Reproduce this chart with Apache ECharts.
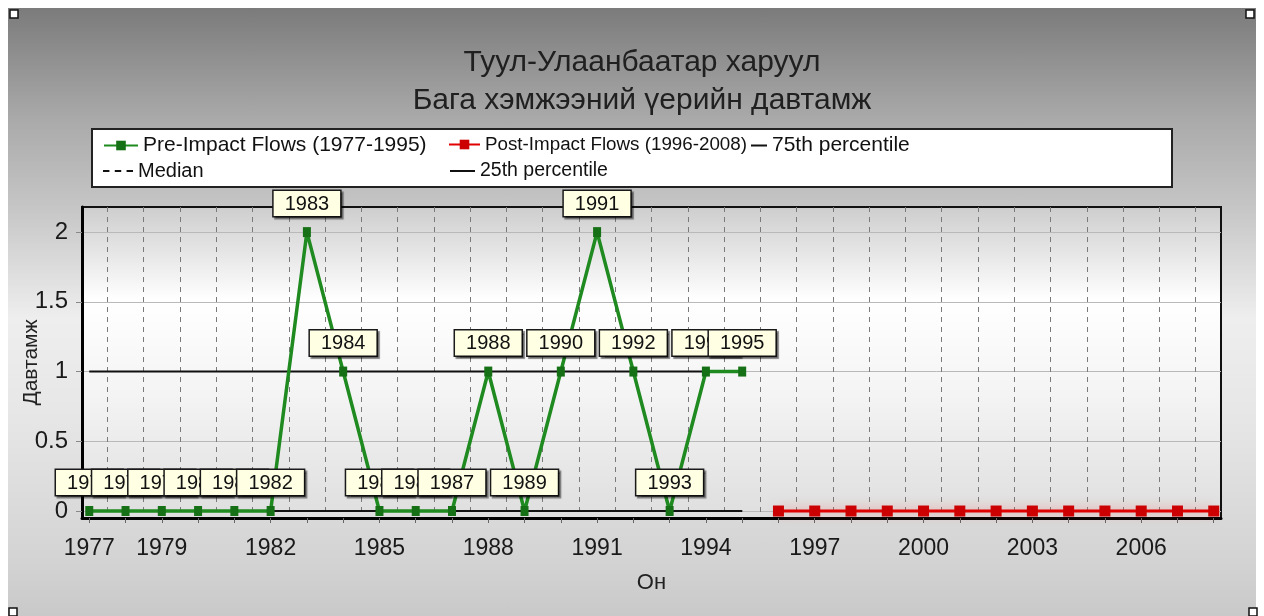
<!DOCTYPE html>
<html>
<head>
<meta charset="utf-8">
<title>Туул-Улаанбаатар харуул</title>
<script src="https://cdn.jsdelivr.net/npm/echarts@6/dist/echarts.min.js"></script>
<style>
  html, body { margin: 0; padding: 0; background: #ffffff; }
  #wrap { position: relative; width: 1264px; height: 616px; overflow: hidden; }
  #bg {
    position: absolute; left: 8px; top: 8px; width: 1248px; height: 608px;
    background: linear-gradient(to bottom, #7b7b7b 0%, #a9a9a9 18%, #c4c4c4 32%, #eeeeee 51%, #e6e6e6 68%, #d3d3d3 91%, #c9c9c9 100%);
  }
  #chart { position: absolute; left: 0; top: 0; width: 1264px; height: 616px; }
</style>
</head>
<body>
<div id="wrap">
  <div id="bg"></div>
  <div id="chart"></div>
</div>
<script>
// Low-flow event counts per year, Tuul river at Ulaanbaatar station
const preImpactName = 'Pre-Impact Flows (1977-1995)';
const preImpactYears = [1977, 1978, 1979, 1980, 1981, 1982, 1983, 1984, 1985, 1986,
                        1987, 1988, 1989, 1990, 1991, 1992, 1993, 1994, 1995];
const preImpactValues = [0, 0, 0, 0, 0, 0, 2, 1, 0, 0,
                         0, 1, 0, 1, 2, 1, 0, 1, 1];

const postImpactName = 'Post-Impact Flows (1996-2008)';
const postImpactYears = [1996, 1997, 1998, 1999, 2000, 2001, 2002, 2003, 2004, 2005,
                         2006, 2007, 2008];
const postImpactValues = [0, 0, 0, 0, 0, 0, 0, 0, 0, 0,
                          0, 0, 0];

// Reference levels of the pre-impact period
const percentileNames = ['75th percentile', 'Median', '25th percentile'];
const percentileValues = [1, 0, 0];

// Axis ticks and labels
const xTickYears = [1977, 1978, 1979, 1980, 1981, 1982, 1983, 1984, 1985, 1986, 1987,
                    1988, 1989, 1990, 1991, 1992, 1993, 1994, 1995, 1996, 1997, 1998,
                    1999, 2000, 2001, 2002, 2003, 2004, 2005, 2006, 2007, 2008];
const xLabelYears = [1977, 1979, 1982, 1985, 1988, 1991, 1994, 1997, 2000, 2003, 2006];
const yTickValues = [0, 0.5, 1, 1.5, 2];

const titleLines = ['Туул-Улаанбаатар харуул', 'Бага хэмжээний үерийн давтамж'];
const xAxisName = 'Он';
const yAxisName = 'Давтамж';

const FONT = '"Liberation Sans", Arial, sans-serif';

const pairs = (xs, ys) => xs.map((x, i) => [x, ys[i]]);
// vertical grid lines sit midway between the yearly ticks
const xGridPositions = xTickYears.slice(0, -1).map(y => y + 0.5);
const spanStart = preImpactYears[0];
const spanEnd = preImpactYears[preImpactYears.length - 1];

const chart = echarts.init(document.getElementById('chart'), null, { renderer: 'canvas' });

// one legend block per entry so each sits in its own column
const legendItem = (name, left, top, fontSize, extra) => Object.assign({
  data: [name],
  left: left,
  top: top,
  orient: 'horizontal',
  padding: 0,
  itemGap: 0,
  itemHeight: 12,
  selectedMode: false,
  textStyle: { color: '#111', fontSize: fontSize, fontFamily: FONT }
}, extra);

const handle = (x, y) => ({
  type: 'rect', z: 100,
  shape: { x: x, y: y, width: 8, height: 8 },
  style: { fill: '#ffffff', stroke: '#111', lineWidth: 1.5 }
});

const dashIcon = 'path://M0,0h6v2h-6z M11,0h6v2h-6z M22,0h6v2h-6z';

const option = {
  backgroundColor: 'transparent',
  animation: false,
  title: {
    text: titleLines.join('\n'),
    left: 637,
    textAlign: 'center',
    top: 39,
    textStyle: {
      color: '#202020', fontSize: 30, fontWeight: 'normal',
      fontFamily: FONT, lineHeight: 38
    }
  },
  graphic: [
    {
      type: 'rect', z: 1,
      shape: { x: 92, y: 129, width: 1080, height: 58 },
      style: { fill: '#ffffff', stroke: '#222', lineWidth: 2 }
    },
    handle(10, 10), handle(1246, 10), handle(9, 608), handle(1249, 608)
  ],
  legend: [
    legendItem(preImpactName, 103, 135, 21, { itemWidth: 34 }),
    legendItem(postImpactName, 448, 135, 18.8, { itemWidth: 31 }),
    legendItem(percentileNames[0], 751, 135, 21,
      { itemWidth: 16, itemHeight: 2, icon: 'rect', symbolKeepAspect: false }),
    legendItem(percentileNames[1], 103, 161, 20,
      { itemWidth: 30, itemHeight: 2, icon: dashIcon, symbolKeepAspect: false }),
    legendItem(percentileNames[2], 450, 161, 19.5,
      { itemWidth: 25, itemHeight: 2, icon: 'rect', symbolKeepAspect: false })
  ],
  grid: {
    left: 82, top: 207, right: 43, bottom: 98,
    outerBoundsMode: 'none',
    containLabel: false,
    show: true,
    borderColor: '#111',
    borderWidth: 2,
    backgroundColor: {
      type: 'linear', x: 0, y: 0, x2: 0, y2: 1,
      colorStops: [
        { offset: 0, color: '#cdcdcd' },
        { offset: 0.3, color: '#ffffff' },
        { offset: 0.6, color: '#f4f4f4' },
        { offset: 1, color: '#dedede' }
      ]
    }
  },
  xAxis: [
    {
      type: 'value',
      min: 1976.8, max: 2008.2,
      name: xAxisName,
      nameLocation: 'middle',
      nameGap: 54,
      nameMoveOverlap: false,
      nameTextStyle: { color: '#222', fontSize: 22, fontFamily: FONT },
      axisLine: { show: true, onZero: false, lineStyle: { color: '#000', width: 3 } },
      axisTick: { show: true, length: 5, customValues: xTickYears, lineStyle: { color: '#666', width: 1 } },
      axisLabel: {
        customValues: xLabelYears,
        margin: 19,
        color: '#1a1a1a', fontSize: 23, fontFamily: FONT,
        formatter: v => String(v)
      },
      splitLine: { show: false }
    },
    {
      type: 'value',
      min: 1976.8, max: 2008.2,
      position: 'bottom',
      axisLine: { show: false },
      axisTick: { show: false, customValues: xGridPositions },
      axisLabel: { show: false },
      splitLine: { show: true, lineStyle: { color: '#7a7a7a', width: 1, type: [5, 5] } }
    }
  ],
  yAxis: {
    type: 'value',
    min: -0.05, max: 2.18,
    name: yAxisName,
    nameLocation: 'middle',
    nameGap: 40,
    nameMoveOverlap: false,
    nameTextStyle: { color: '#222', fontSize: 21, fontFamily: FONT },
    axisLine: { show: true, onZero: false, lineStyle: { color: '#000', width: 3 } },
    axisTick: { show: true, length: 6, customValues: yTickValues, lineStyle: { color: '#888' } },
    axisLabel: {
      customValues: yTickValues,
      margin: 14,
      color: '#1a1a1a', fontSize: 24, fontFamily: FONT
    },
    splitLine: { show: true, lineStyle: { color: '#b9b9b9', width: 1 } }
  },
  series: [
    {
      name: percentileNames[0],
      type: 'line', z: 2,
      symbol: 'none',
      color: '#111',
      lineStyle: { color: '#111', width: 2 },
      data: [[spanStart, percentileValues[0]], [spanEnd, percentileValues[0]]]
    },
    {
      name: percentileNames[1],
      type: 'line', z: 2,
      symbol: 'none',
      color: '#111',
      lineStyle: { color: '#111', width: 1.5, type: [5, 4] },
      data: [[spanStart, percentileValues[1]], [spanEnd, percentileValues[1]]]
    },
    {
      name: percentileNames[2],
      type: 'line', z: 2,
      symbol: 'none',
      color: '#111',
      lineStyle: { color: '#111', width: 2 },
      data: [[spanStart, percentileValues[2]], [spanEnd, percentileValues[2]]]
    },
    {
      name: postImpactName,
      type: 'line', z: 3,
      clip: false,
      showAllSymbol: true,
      symbol: 'rect',
      symbolSize: [11, 11],
      color: '#dd0000',
      itemStyle: { color: '#cc0000' },
      lineStyle: { color: '#e00000', width: 3, shadowColor: 'rgba(255,60,60,0.6)', shadowBlur: 12 },
      data: pairs(postImpactYears, postImpactValues)
    },
    {
      name: preImpactName,
      type: 'line', z: 4,
      clip: false,
      showAllSymbol: true,
      symbol: 'rect',
      symbolSize: [8, 10],
      color: '#1f8a1f',
      itemStyle: { color: '#167016' },
      lineStyle: { color: '#1f8a1f', width: 3.5 },
      label: {
        show: true,
        position: 'top',
        distance: 11,
        formatter: p => String(p.value[0]),
        color: '#111',
        fontSize: 20,
        fontFamily: FONT,
        backgroundColor: '#ffffe3',
        borderColor: '#1a1a1a',
        borderWidth: 1.5,
        padding: [3, 11, 2, 11],
        shadowColor: 'rgba(0,0,0,0.45)',
        shadowBlur: 1,
        shadowOffsetX: 2,
        shadowOffsetY: 2
      },
      labelLayout: { hideOverlap: false },
      data: pairs(preImpactYears, preImpactValues)
    }
  ]
};

chart.setOption(option);
</script>
</body>
</html>
